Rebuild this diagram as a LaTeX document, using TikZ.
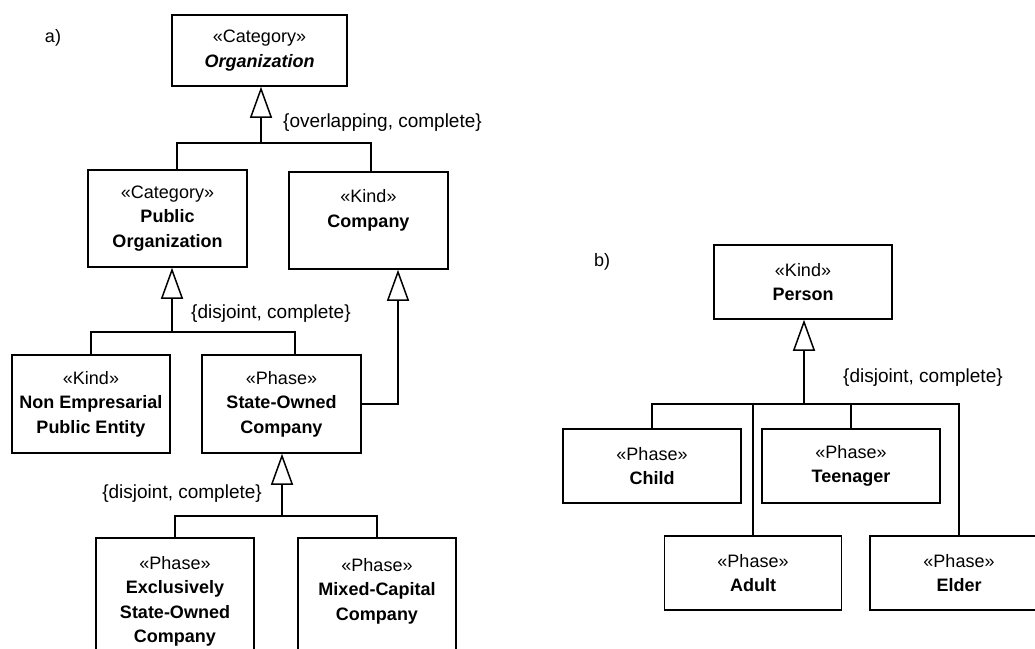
\documentclass[tikz,border=0pt]{standalone}
\usepackage{fontspec}
\setmainfont{Liberation Sans}
\usetikzlibrary{arrows.meta}
\tikzset{
  umlclass/.style 2 args={draw, line width=1.5pt, minimum width=#1, minimum height=#2,
    inner sep=0pt, align=center, font=\fontsize{18}{24.5}\selectfont},
  gen/.style={line width=1.5pt, -{Triangle[open, length=31pt, width=22pt, line width=1.5pt]}},
  branch/.style={line width=1.5pt},
  genset/.style={inner sep=0pt, font=\fontsize{19}{22}\selectfont}
}

\begin{document}
\begin{tikzpicture}[x=1pt, y=-1pt]
	\useasboundingbox (0,0) rectangle (1035,648);
	\clip (0,0) rectangle (1035,648);

	% a) organizations
	\node[genset, font=\fontsize{18}{22}\selectfont] (lbla) at (53,38) {a)};
	\node[umlclass={175pt}{71pt}] (org) at (259.5,50.5) {«Category»\\\textbf{\textit{Organization}}};
	\node[umlclass={159pt}{97pt}] (pub) at (167.5,218.5) {«Category»\\\textbf{Public}\\\textbf{Organization}};
	\node[umlclass={159pt}{97pt}] (comp) at (368.5,220.5) {«Kind»\\\textbf{Company}\\\mbox{}};
	\node[umlclass={158pt}{98pt}] (nonemp) at (91,404) {«Kind»\\\textbf{Non Empresarial}\\\textbf{Public Entity}};
	\node[umlclass={159pt}{98pt}] (soc) at (281.5,404) {«Phase»\\\textbf{State-Owned}\\\textbf{Company}};
	\node[umlclass={158pt}{127pt}] (excl) at (175,601.5) {«Phase»\\\textbf{Exclusively}\\\textbf{State-Owned}\\\textbf{Company}};
	\node[umlclass={158pt}{127pt}] (mixed) at (377,601.5) {«Phase»\\\textbf{Mixed-Capital}\\\textbf{Company}\\\mbox{}};

	%organization --> public organization, company
	\coordinate (j1) at (261,143);
	\draw[gen] (j1) -- (org.south -| j1);
	\draw[branch] ([xshift=9.5pt]pub.north) |- (j1) -| ([xshift=2.5pt]comp.north);
	\node[genset, anchor=west] (gs1) at (283,123) {\{overlapping, complete\}};

	%public organization --> non empresarial, state-owned
	\coordinate (j2) at (172,332);
	\draw[gen] (j2) -- (pub.south -| j2);
	\draw[branch] (nonemp.north) |- (j2) -| ([xshift=13.5pt]soc.north);
	\node[genset, anchor=west] (gs2) at (191,314) {\{disjoint, complete\}};

	%state-owned --> exclusively, mixed-capital
	\coordinate (j3) at (282,516);
	\draw[gen] (j3) -- (soc.south -| j3);
	\draw[branch] (excl.north) |- (j3) -| (mixed.north);
	\node[genset, anchor=east] (gs3) at (262,494) {\{disjoint, complete\}};

	%state-owned is also a company
	\draw[gen] (soc.east) -| ([xshift=29.5pt]comp.south);

	% b) person phases
	\node[genset, font=\fontsize{18}{22}\selectfont] (lblb) at (602,262) {b)};
	\node[umlclass={178pt}{74pt}] (person) at (803,282) {«Kind»\\\textbf{Person}};
	\node[umlclass={178pt}{74pt}] (child) at (652,466) {«Phase»\\\textbf{Child}};
	\node[umlclass={178pt}{74pt}] (teen) at (851,466) {«Phase»\\\textbf{Teenager}};
	\node[umlclass={177pt}{74pt}] (adult) at (753,573) {«Phase»\\\textbf{Adult}};
	\node[umlclass={178pt}{74pt}] (elder) at (959,573) {«Phase»\\\textbf{Elder}};

	\coordinate (j4) at (804,404);
	\draw[gen] (j4) -- (person.south -| j4);
	\draw[branch] (child.north) |- (j4) -| (elder.north);
	\draw[branch] (adult.north) -- (adult.north |- j4);
	\draw[branch] (teen.north) -- (teen.north |- j4);
	\node[genset, anchor=west] (gs4) at (843,378) {\{disjoint, complete\}};

\end{tikzpicture}
\end{document}
